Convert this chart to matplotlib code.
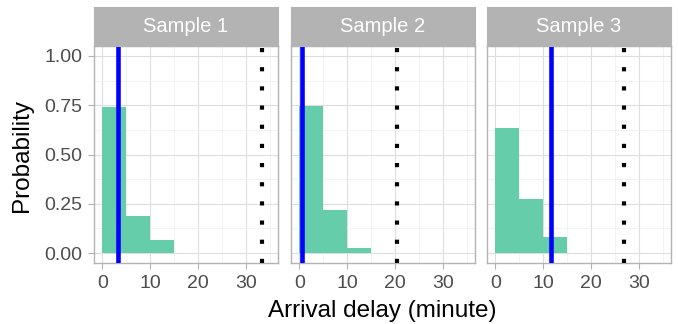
import numpy as np
import matplotlib
matplotlib.use("Agg")
import matplotlib.pyplot as plt

plt.rcParams['font.family'] = ['Liberation Sans', 'DejaVu Sans']

# data
samples = ['Sample 1', 'Sample 2', 'Sample 3']
bin_edges = [0, 5, 10, 15]
prob_s1 = [0.74, 0.19, 0.065]
prob_s2 = [0.745, 0.22, 0.025]
prob_s3 = [0.635, 0.275, 0.08]
probs = [prob_s1, prob_s2, prob_s3]
mean_delay = [3.2, 0.6, 11.7]      # blue lines
max_delay = [33.5, 20.5, 26.9]     # dotted lines
x_ticks = [0, 10, 20, 30]
y_ticks = [0.0, 0.25, 0.5, 0.75, 1.0]

bar_col = '#66CDAA'
border = '#B3B3B3'
grid_major = '#DEDEDE'
grid_minor = '#EEEEEE'
txt_grey = '#4D4D4D'

W, H = 678, 324
fig = plt.figure(figsize=(W / 100, H / 100), dpi=100)

lefts = [94, 291, 487]
pw = 184
top, bottom = 46, 263
strip_top = 7

for i in range(3):
    ax = fig.add_axes([lefts[i] / W, 1 - bottom / H, pw / W, (bottom - top) / H])
    ax.set_xlim(-1.75, 36.75)
    ax.set_ylim(-0.05, 1.05)
    ax.set_xticks(x_ticks)
    ax.set_xticks([5, 15, 25, 35], minor=True)
    ax.set_yticks(y_ticks)
    ax.set_yticks([0.125, 0.375, 0.625, 0.875], minor=True)
    ax.grid(True, which='major', color=grid_major, lw=0.8, zorder=0)
    ax.grid(True, which='minor', color=grid_minor, lw=0.5, zorder=0)
    ax.set_axisbelow(True)
    for s in ax.spines.values():
        s.set_color(border)
        s.set_linewidth(1.0)
    ax.tick_params(which='major', color=border, length=4, width=0.8,
                   labelsize=14, labelcolor=txt_grey, pad=4.5)
    ax.tick_params(which='minor', length=0)
    if i > 0:
        ax.tick_params(axis='y', labelleft=False, length=0)
    else:
        ax.set_yticklabels(['0.00', '0.25', '0.50', '0.75', '1.00'])

    left_edges = bin_edges[:-1]
    ax.bar(left_edges, probs[i], width=np.diff(bin_edges), align='edge',
           color=bar_col, edgecolor='none', zorder=2)
    ax.axvline(mean_delay[i], color='#0000FF', lw=3.3, zorder=3)
    ax.axvline(max_delay[i], color='black', lw=3.0, ls=(0, (1, 3.6)), zorder=3)

    # facet strip
    sax = fig.add_axes([lefts[i] / W, 1 - top / H, pw / W, (top - strip_top) / H])
    sax.set_xticks([])
    sax.set_yticks([])
    sax.set_facecolor(border)
    for s in sax.spines.values():
        s.set_color(border)
    sax.text(0.5, 0.5, samples[i], ha='center', va='center', color='white',
             fontsize=14.5, transform=sax.transAxes)

fig.text(382 / W, 1 - 311 / H, 'Arrival delay (minute)', ha='center', va='center',
         fontsize=17.5, color='black')
fig.text(22 / W, 1 - 155 / H, 'Probability', ha='center', va='center',
         rotation=90, fontsize=17.5, color='black')

fig.savefig('out.png', dpi=100)
